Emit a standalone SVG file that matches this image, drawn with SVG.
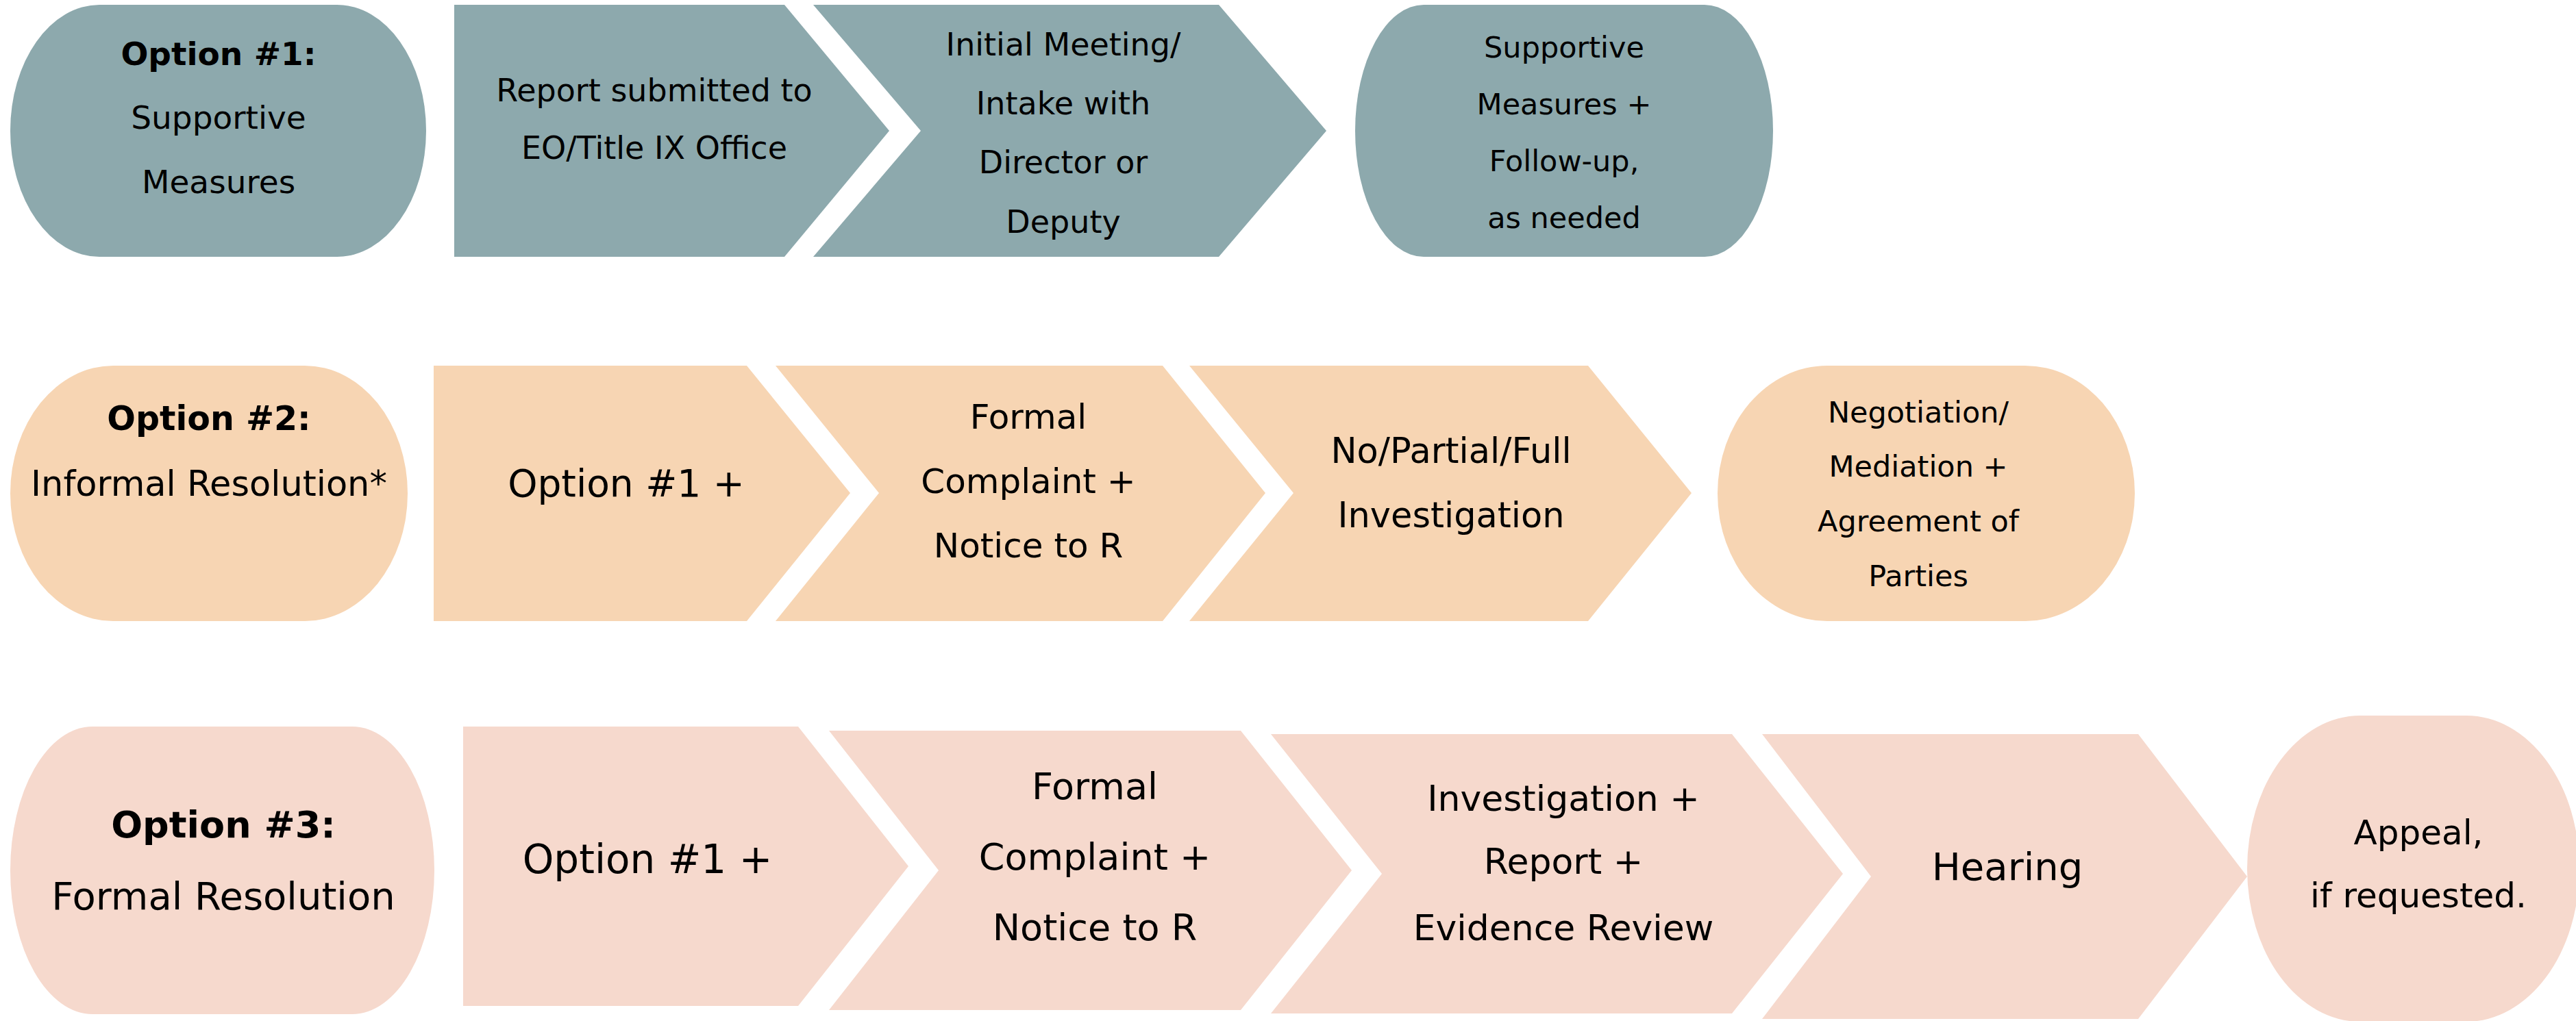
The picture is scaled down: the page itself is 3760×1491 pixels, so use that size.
<svg xmlns="http://www.w3.org/2000/svg" width="3760" height="1491" viewBox="0 0 3760 1491">
<style>
.teal{fill:#8DA9AD}
.peach{fill:#F7D5B3}
.pink{fill:#F6D9CD}
text{font-family:"DejaVu Sans","Liberation Sans",sans-serif;fill:#000;text-anchor:middle}
.b{font-weight:bold}
</style>
<rect width="3760" height="1491" fill="#FFFFFF"/>
<g id="connectors"></g>
<!-- Row 1 -->
<g id="opt1">
<rect class="teal" x="15" y="7" width="607" height="368" rx="130" ry="184"/>
<text x="319" y="95" font-size="47" class="b">Option #1:</text>
<text x="319" y="188" font-size="47">Supportive</text>
<text x="319" y="282" font-size="47">Measures</text>
</g>
<g id="r1c1">
<polygon class="teal" points="663,7 1145,7 1298,191 1145,375 663,375"/>
<text x="955" y="148" font-size="46">Report submitted to</text>
<text x="955" y="232" font-size="46">EO/Title IX Office</text>
</g>
<g id="r1c2">
<polygon class="teal" points="1187,7 1779,7 1936,191 1779,375 1187,375 1344,191"/>
<text x="1552" y="81" font-size="46">Initial Meeting/</text>
<text x="1552" y="167" font-size="46">Intake with</text>
<text x="1552" y="253" font-size="46">Director or</text>
<text x="1552" y="340" font-size="46">Deputy</text>
</g>
<g id="r1end">
<rect class="teal" x="1978" y="7" width="610" height="368" rx="100" ry="184"/>
<text x="2283" y="84" font-size="43">Supportive</text>
<text x="2283" y="167" font-size="43">Measures +</text>
<text x="2283" y="250" font-size="43">Follow-up,</text>
<text x="2283" y="333" font-size="43">as needed</text>
</g>
<!-- Row 2 -->
<g id="opt2">
<rect class="peach" x="15" y="534" width="580" height="373" rx="150" ry="186.5"/>
<text x="305" y="628" font-size="49" class="b">Option #2:</text>
<text x="305" y="724" font-size="51">Informal Resolution*</text>
</g>
<g id="r2c1">
<polygon class="peach" points="633,534 1090,534 1241,720 1090,907 633,907"/>
<text x="914" y="725" font-size="55">Option #1 +</text>
</g>
<g id="r2c2">
<polygon class="peach" points="1132,534 1697,534 1847,720 1697,907 1132,907 1283,720"/>
<text x="1501" y="626" font-size="50">Formal</text>
<text x="1501" y="720" font-size="50">Complaint +</text>
<text x="1501" y="814" font-size="50">Notice to R</text>
</g>
<g id="r2c3">
<polygon class="peach" points="1736,534 2318,534 2469,720 2318,907 1736,907 1888,720"/>
<text x="2118" y="676" font-size="51">No/Partial/Full</text>
<text x="2118" y="770" font-size="51">Investigation</text>
</g>
<g id="r2end">
<rect class="peach" x="2507" y="534" width="609" height="373" rx="160" ry="186.5"/>
<text x="2800" y="617" font-size="43">Negotiation/</text>
<text x="2800" y="696" font-size="43">Mediation +</text>
<text x="2800" y="776" font-size="43">Agreement of</text>
<text x="2800" y="856" font-size="43">Parties</text>
</g>
<!-- Row 3 -->
<g id="opt3">
<rect class="pink" x="15" y="1061" width="619" height="420" rx="120" ry="210"/>
<text x="326" y="1223" font-size="54" class="b">Option #3:</text>
<text x="326" y="1328" font-size="56">Formal Resolution</text>
</g>
<g id="r3c1">
<polygon class="pink" points="676,1061 1165,1061 1326,1265 1165,1469 676,1469"/>
<text x="945" y="1275" font-size="58">Option #1 +</text>
</g>
<g id="r3c2">
<polygon class="pink" points="1210,1067 1811,1067 1973,1271 1811,1475 1210,1475 1370,1271"/>
<text x="1598" y="1167" font-size="54">Formal</text>
<text x="1598" y="1270" font-size="54">Complaint +</text>
<text x="1598" y="1373" font-size="54">Notice to R</text>
</g>
<g id="r3c3">
<polygon class="pink" points="1855,1072 2528,1072 2690,1276 2528,1480 1855,1480 2017,1276"/>
<text x="2282" y="1184" font-size="52">Investigation +</text>
<text x="2282" y="1276" font-size="52">Report +</text>
<text x="2282" y="1373" font-size="52">Evidence Review</text>
</g>
<g id="r3c4">
<polygon class="pink" points="2572,1072 3121,1072 3280,1280 3121,1488 2572,1488 2731,1280"/>
<text x="2930" y="1285" font-size="56">Hearing</text>
</g>
<g id="r3end">
<rect class="pink" x="3280" y="1045" width="485" height="447" rx="165" ry="223.5"/>
<text x="3530" y="1233" font-size="50">Appeal,</text>
<text x="3530" y="1325" font-size="50">if requested.</text>
</g>
</svg>
